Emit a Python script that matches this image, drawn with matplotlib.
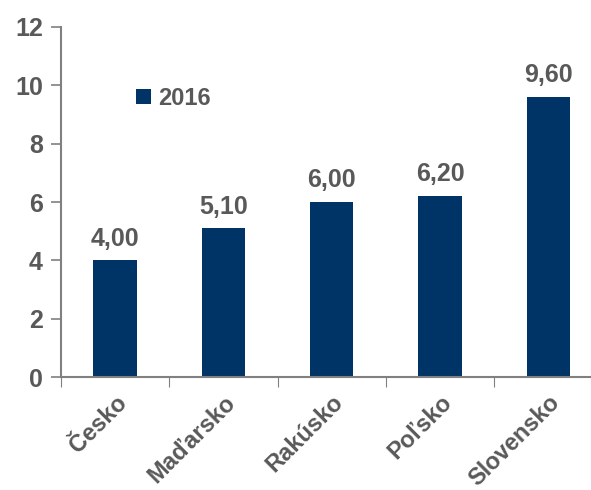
import matplotlib
matplotlib.use('Agg')
import matplotlib.pyplot as plt
import matplotlib.transforms as mtransforms
import numpy as np

plt.rcParams['font.family'] = ['Liberation Sans', 'DejaVu Sans']
plt.rcParams['font.weight'] = 'bold'

countries = ['Česko', 'Maďarsko', 'Rakúsko', 'Poľsko', 'Slovensko']
values_2016 = [4.00, 5.10, 6.00, 6.20, 9.60]
series_name = '2016'

bar_color = '#003366'
text_color = '#595959'
axis_color = '#808080'

fig = plt.figure(figsize=(5.91, 4.90), dpi=100)
ax = fig.add_axes([0.1032, 0.2306, 0.916, 0.7143])

x = np.arange(len(countries))
bars = ax.bar(x, values_2016, width=0.4, color=bar_color, label=series_name)

for b, v in zip(bars, values_2016):
    ax.annotate(('%.2f' % v).replace('.', ','), (b.get_x() + b.get_width() / 2, v),
                xytext=(0, 7), textcoords='offset points', ha='center', va='bottom',
                fontsize=18, fontweight='bold', color=text_color)

ax.set_xlim(-0.5, len(countries) - 0.5)
ax.set_ylim(0, 12)
ax.set_yticks(range(0, 13, 2))
ax.set_yticklabels([str(t) for t in range(0, 13, 2)], fontsize=18, fontweight='bold', color=text_color)

ax.set_xticks(x - 0.5, minor=False)
ax.set_xticklabels([])
ax.set_xticks(x, minor=True)
ax.set_xticklabels(countries, minor=True, rotation=45, ha='right', rotation_mode='anchor',
                   fontsize=17, fontweight='bold', color=text_color)
shift = mtransforms.ScaledTranslation(-7 / 100, 0, fig.dpi_scale_trans)
for lbl in ax.get_xticklabels(minor=True):
    lbl.set_transform(lbl.get_transform() + shift)
ax.tick_params(axis='x', which='minor', length=0, pad=10)
ax.tick_params(axis='x', which='major', length=7, color=axis_color, direction='out')
ax.tick_params(axis='y', length=7, color=axis_color, width=1.2, pad=6)

for s in ['top', 'right']:
    ax.spines[s].set_visible(False)
for s in ['left', 'bottom']:
    ax.spines[s].set_color(axis_color)
    ax.spines[s].set_linewidth(1.5)

leg = ax.legend(loc='upper left', bbox_to_anchor=(0.1, 0.89), frameon=False,
                handlelength=0.6, handleheight=0.6, handletextpad=0.3,
                prop={'size': 17, 'weight': 'bold'})
for t in leg.get_texts():
    t.set_color(text_color)

fig.savefig('out.png', dpi=100)
